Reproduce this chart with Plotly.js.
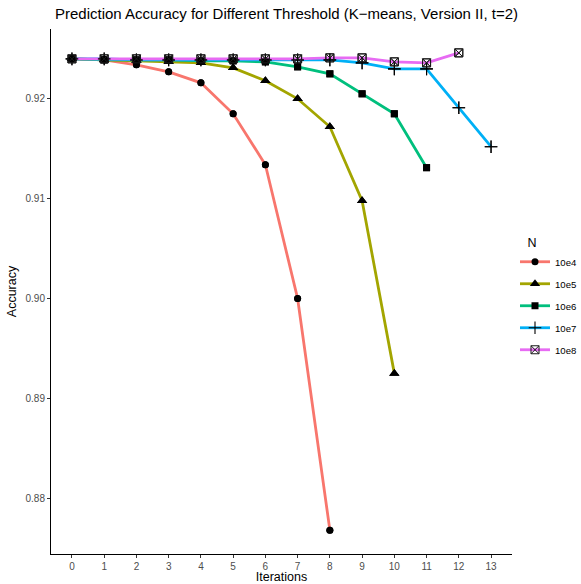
<!DOCTYPE html>
<html>
<head>
<meta charset="utf-8">
<script src="https://cdn.plot.ly/plotly-3.0.1.min.js"></script>
<style>
  html, body { margin: 0; padding: 0; background: #ffffff; }
  #chart { width: 581px; height: 584px; }
</style>
</head>
<body>
<div id="chart"></div>
<script>
// Iteration index on the x axis
const iterations = [0, 1, 2, 3, 4, 5, 6, 7, 8, 9, 10, 11, 12, 13];
const xTickLabels = ['0', '1', '2', '3', '4', '5', '6', '7', '8', '9', '10', '11', '12', '13'];
const yTickValues = [0.88, 0.89, 0.90, 0.91, 0.92];

// Series names (sample size N)
const seriesNames = ['10e4', '10e5', '10e6', '10e7', '10e8'];

// Prediction accuracy per iteration for each N
const acc10e4 = [0.9240, 0.9239, 0.9234, 0.9227, 0.9216, 0.9185, 0.9134, 0.9000, 0.8768];
const acc10e5 = [0.9240, 0.9239, 0.9238, 0.9237, 0.9236, 0.9231, 0.9218, 0.9200, 0.9172, 0.9098, 0.8925];
const acc10e6 = [0.9240, 0.9239, 0.9239, 0.9239, 0.9238, 0.9238, 0.9237, 0.9232, 0.9225, 0.9205, 0.9185, 0.9131];
const acc10e7 = [0.9240, 0.9240, 0.9239, 0.9239, 0.9239, 0.9239, 0.9239, 0.9239, 0.9239, 0.9236, 0.9230, 0.9230, 0.9191, 0.9152];
const acc10e8 = [0.9240, 0.9240, 0.9240, 0.9240, 0.9240, 0.9240, 0.9240, 0.9240, 0.9241, 0.9241, 0.9237, 0.9236, 0.9246];

const seriesValues = [acc10e4, acc10e5, acc10e6, acc10e7, acc10e8];

// ggplot-style hue palette and point shapes
const lineColors = ['#F8766D', '#A3A500', '#00BF7D', '#00B0F6', '#E76BF3'];
const markerStyles = [
  { symbol: 'circle', size: 7, color: '#000000' },
  { symbol: 'triangle-up', size: 9, color: '#000000' },
  { symbol: 'square', size: 7, color: '#000000' },
  { symbol: 'cross-thin-open', size: 9, color: '#000000', line: { color: '#1a1a1a', width: 1.1 } },
  { symbol: 'square-x-open', size: 8, color: '#1a1a1a', line: { color: '#1a1a1a', width: 1 } }
];

const FONT = 'Liberation Sans, Arial, Helvetica, sans-serif';

const traces = [];
// Lines (with legend entries) first
seriesValues.forEach((vals, i) => {
  traces.push({
    type: 'scatter',
    mode: 'lines+markers',
    name: seriesNames[i],
    legendgroup: seriesNames[i],
    x: iterations.slice(0, vals.length),
    y: vals,
    line: { color: lineColors[i], width: 2.8 },
    marker: markerStyles[i],
    hoverinfo: 'x+y+name'
  });
});
// Points drawn on top of every line
seriesValues.forEach((vals, i) => {
  traces.push({
    type: 'scatter',
    mode: 'markers',
    name: seriesNames[i],
    legendgroup: seriesNames[i],
    showlegend: false,
    x: iterations.slice(0, vals.length),
    y: vals,
    marker: markerStyles[i],
    hoverinfo: 'skip'
  });
});

// Continuous scale expansion of 5% on each side
const allY = seriesValues.flat();
const yMin = Math.min(...allY), yMax = Math.max(...allY);
const yPad = (yMax - yMin) * 0.05;
const xMin = iterations[0], xMax = iterations[iterations.length - 1];
const xPad = (xMax - xMin) * 0.05;

const layout = {
  width: 581,
  height: 584,
  paper_bgcolor: '#ffffff',
  plot_bgcolor: '#ffffff',
  margin: { l: 51, r: 69, t: 29, b: 30 },
  font: { family: FONT, color: '#000000' },
  title: {
    text: 'Prediction Accuracy for Different Threshold (K\u2212means, Version II, t=2)',
    font: { family: FONT, size: 15, color: '#000000' },
    xref: 'container', x: 55 / 581, xanchor: 'left',
    yref: 'container', y: 1 - 14 / 584, yanchor: 'middle'
  },
  xaxis: {
    range: [xMin - xPad, xMax + xPad],
    tickmode: 'array',
    tickvals: iterations,
    ticktext: xTickLabels,
    showgrid: false,
    zeroline: false,
    showline: true,
    linecolor: '#000000',
    linewidth: 1,
    ticks: 'outside',
    ticklen: 3,
    tickwidth: 1,
    tickcolor: '#333333',
    tickfont: { family: FONT, size: 10, color: '#4D4D4D' },
    title: { text: 'Iterations', font: { family: FONT, size: 12.5, color: '#000000' }, standoff: 4 },
    automargin: false
  },
  yaxis: {
    range: [yMin - yPad, yMax + yPad],
    tickmode: 'array',
    tickvals: yTickValues,
    tickformat: '.2f',
    showgrid: false,
    zeroline: false,
    showline: true,
    linecolor: '#000000',
    linewidth: 1,
    ticks: 'outside',
    ticklen: 3,
    tickwidth: 1,
    tickcolor: '#333333',
    tickfont: { family: FONT, size: 10, color: '#4D4D4D' },
    title: { text: 'Accuracy', font: { family: FONT, size: 12.5, color: '#000000' }, standoff: 6 },
    automargin: false
  },
  showlegend: true,
  legend: {
    xref: 'container', yref: 'container',
    x: 515 / 581, xanchor: 'left',
    y: 1 - 298 / 584, yanchor: 'middle',
    bgcolor: 'rgba(0,0,0,0)',
    borderwidth: 0,
    traceorder: 'grouped',
    tracegroupgap: 3,
    itemwidth: 30,
    font: { family: FONT, size: 9.6, color: '#000000' },
    title: { text: '\u00a0\u00a0\u00a0N', font: { family: FONT, size: 12.5, color: '#000000' } }
  },
  hovermode: 'closest'
};

Plotly.newPlot('chart', traces, layout, { displayModeBar: false, staticPlot: true });
</script>
</body>
</html>
